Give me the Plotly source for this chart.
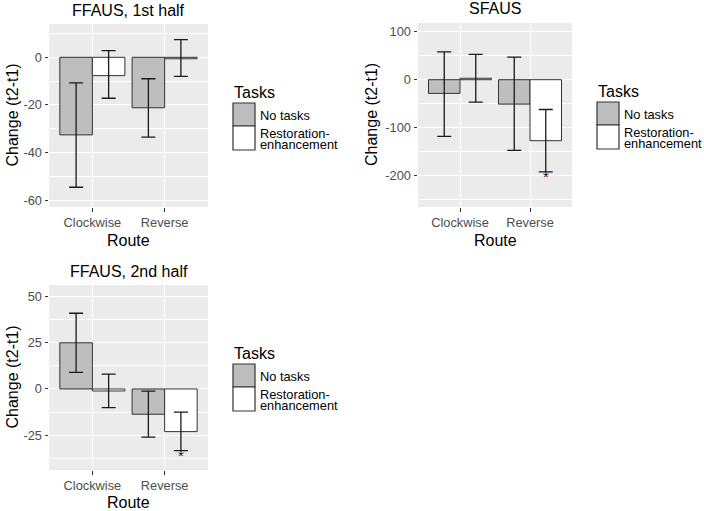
import plotly.graph_objects as go

# ---------------- data ----------------
routes = ["Clockwise", "Reverse"]
tasks = ["No tasks", "Restoration-enhancement"]

# FFAUS, 1st half
ff1_none = [-32.6, -21.2]
ff1_none_lo = [-54.6, -33.5]
ff1_none_hi = [-10.7, -9.0]
ff1_rest = [-7.7, -0.6]
ff1_rest_lo = [-17.2, -8.0]
ff1_rest_hi = [2.8, 7.4]

# SFAUS
sf_none = [-28.5, -50.8]
sf_none_lo = [-118.0, -147.0]
sf_none_hi = [58.0, 47.0]
sf_rest = [3.0, -127.0]
sf_rest_lo = [-46.7, -192.0]
sf_rest_hi = [52.7, -62.0]
sf_star = [None, -200.0]

# FFAUS, 2nd half
ff2_none = [25.0, -13.7]
ff2_none_lo = [9.0, -26.1]
ff2_none_hi = [41.0, -1.2]
ff2_rest = [-1.1, -23.1]
ff2_rest_lo = [-10.1, -33.4]
ff2_rest_hi = [8.0, -12.6]
ff2_star = [None, -35.5]

panel_titles = ["FFAUS, 1st half", "SFAUS", "FFAUS, 2nd half"]
ytick_vals = [[-60, -40, -20, 0], [-200, -100, 0, 100], [-25, 0, 25, 50]]
ytick_text = [["-60", "-40", "-20", "0"], ["-200", "-100", "0", "100"], ["-25", "0", "25", "50"]]
yminor_vals = [[-50, -30, -10, 10], [-250, -150, -50, 50], [-37.5, -12.5, 12.5, 37.5]]
y_ranges = [[-62.9, 14.0], [-265.0, 118.0], [-43.9, 56.3]]

# ---------------- layout helpers ----------------
W, H = 704, 511
FONT = "Arial, 'Liberation Sans', sans-serif"
FILLS = ["#BEBEBE", "#FFFFFF"]
OUTLINE = "#333333"


def X(px):
    return px / W


def Y(py):
    return 1 - py / H


# plot area boxes in px: left, right, top, bottom
boxes = [(49, 208, 24, 207), (418, 572, 23, 207), (49, 208, 285, 470)]
ytitle_x = [12, 371, 12]
xtitle_off = [34, 34, 32]

fig = go.Figure()

panels = [
    (ff1_none, ff1_none_lo, ff1_none_hi, ff1_rest, ff1_rest_lo, ff1_rest_hi, None),
    (sf_none, sf_none_lo, sf_none_hi, sf_rest, sf_rest_lo, sf_rest_hi, sf_star),
    (ff2_none, ff2_none_lo, ff2_none_hi, ff2_rest, ff2_rest_lo, ff2_rest_hi, ff2_star),
]

annotations = []
shapes = []
layout_axes = {}

for i, (nv, nlo, nhi, rv, rlo, rhi, star) in enumerate(panels):
    k = "" if i == 0 else str(i + 1)
    xa, ya = "x" + k, "y" + k
    series = [(nv, nlo, nhi), (rv, rlo, rhi)]
    for j, (v, lo, hi) in enumerate(series):
        fig.add_trace(go.Bar(
            x=routes, y=v, name=tasks[j], xaxis=xa, yaxis=ya,
            offsetgroup=str(j), showlegend=False,
            marker=dict(color=FILLS[j], line=dict(color=OUTLINE, width=1)),
            error_y=dict(type="data", symmetric=False,
                         array=[h - a for h, a in zip(hi, v)],
                         arrayminus=[a - l for a, l in zip(v, lo)],
                         color="#1a1a1a", thickness=1.3, width=7),
        ))
    l, r, t, b = boxes[i]
    unit_px = (r - l) / 2.2
    layout_axes["xaxis" + k] = dict(
        domain=[X(l), X(r)], anchor=ya, type="category",
        categoryorder="array", categoryarray=routes, range=[-0.6, 1.6],
        showgrid=True, gridcolor="white", gridwidth=1.4, zeroline=False,
        ticks="outside", ticklen=3.5, tickcolor="#333333", tickwidth=1,
        tickfont=dict(family=FONT, size=12.8, color="#4D4D4D"),
        showline=False, fixedrange=True,
    )
    layout_axes["yaxis" + k] = dict(
        domain=[Y(b), Y(t)], anchor=xa, range=y_ranges[i],
        tickmode="array", tickvals=ytick_vals[i], ticktext=ytick_text[i],
        showgrid=True, gridcolor="white", gridwidth=1.4, zeroline=False,
        minor=dict(tickvals=yminor_vals[i], showgrid=True, gridcolor="white",
                   gridwidth=0.7, ticks=""),
        ticks="outside", ticklen=3.5, tickcolor="#333333", tickwidth=1,
        tickfont=dict(family=FONT, size=12.8, color="#4D4D4D"),
        showline=False, fixedrange=True,
    )
    cx = (l + r) / 2
    # panel title
    annotations.append(dict(text=panel_titles[i], x=X(cx), y=Y(t - 14), xref="paper", yref="paper",
                            showarrow=False, xanchor="center", yanchor="middle",
                            font=dict(family=FONT, size=16, color="black")))
    # x title
    annotations.append(dict(text="Route", x=X(cx), y=Y(b + xtitle_off[i]), xref="paper", yref="paper",
                            showarrow=False, xanchor="center", yanchor="middle",
                            font=dict(family=FONT, size=16, color="black")))
    # y title
    annotations.append(dict(text="Change (t2-t1)", x=X(ytitle_x[i]), y=Y((t + b) / 2),
                            xref="paper", yref="paper", textangle=-90,
                            showarrow=False, xanchor="center", yanchor="middle",
                            font=dict(family=FONT, size=16, color="black")))
    # significance stars
    if star is not None:
        for route, sy in zip(routes, star):
            if sy is None:
                continue
            annotations.append(dict(text="*", x=route, y=sy, xref=xa, yref=ya,
                                    xshift=0.225 * unit_px, yshift=-1,
                                    showarrow=False, xanchor="center", yanchor="middle",
                                    font=dict(family=FONT, size=15, color="#1a1a1a")))
    # legend (drawn)
    kx0 = r + 25
    kx1 = kx0 + 22
    annotations.append(dict(text="Tasks", x=X(kx0 - 1), y=Y(t + 68), xref="paper", yref="paper",
                            showarrow=False, xanchor="left", yanchor="middle",
                            font=dict(family=FONT, size=16, color="black")))
    keys = [(t + 79, t + 102), (t + 102, t + 126)]
    for j, (k0, k1) in enumerate(keys):
        shapes.append(dict(type="rect", xref="paper", yref="paper",
                           x0=X(kx0), x1=X(kx1), y0=Y(k1), y1=Y(k0),
                           fillcolor=FILLS[j], line=dict(color=OUTLINE, width=1.2)))
    annotations.append(dict(text="No tasks", x=X(kx1 + 3), y=Y((keys[0][0] + keys[0][1]) / 2 + 1),
                            xref="paper", yref="paper", showarrow=False,
                            xanchor="left", yanchor="middle",
                            font=dict(family=FONT, size=12.8, color="black")))
    kc = (keys[1][0] + keys[1][1]) / 2
    annotations.append(dict(text="Restoration-", x=X(kx1 + 3), y=Y(kc - 4.5),
                            xref="paper", yref="paper", showarrow=False,
                            xanchor="left", yanchor="middle",
                            font=dict(family=FONT, size=12.8, color="black")))
    annotations.append(dict(text="enhancement", x=X(kx1 + 3), y=Y(kc + 6.5),
                            xref="paper", yref="paper", showarrow=False,
                            xanchor="left", yanchor="middle",
                            font=dict(family=FONT, size=12.8, color="black")))

fig.update_layout(
    width=W, height=H, autosize=False,
    margin=dict(l=0, r=0, t=0, b=0),
    paper_bgcolor="white", plot_bgcolor="#EBEBEB",
    barmode="group", bargap=0.1, bargroupgap=0,
    showlegend=False,
    annotations=annotations, shapes=shapes,
    font=dict(family=FONT),
    **layout_axes,
)

fig.write_html("out.html", config={"displayModeBar": False},
               post_script="document.body.style.margin='0px';document.body.style.overflow='hidden';")
